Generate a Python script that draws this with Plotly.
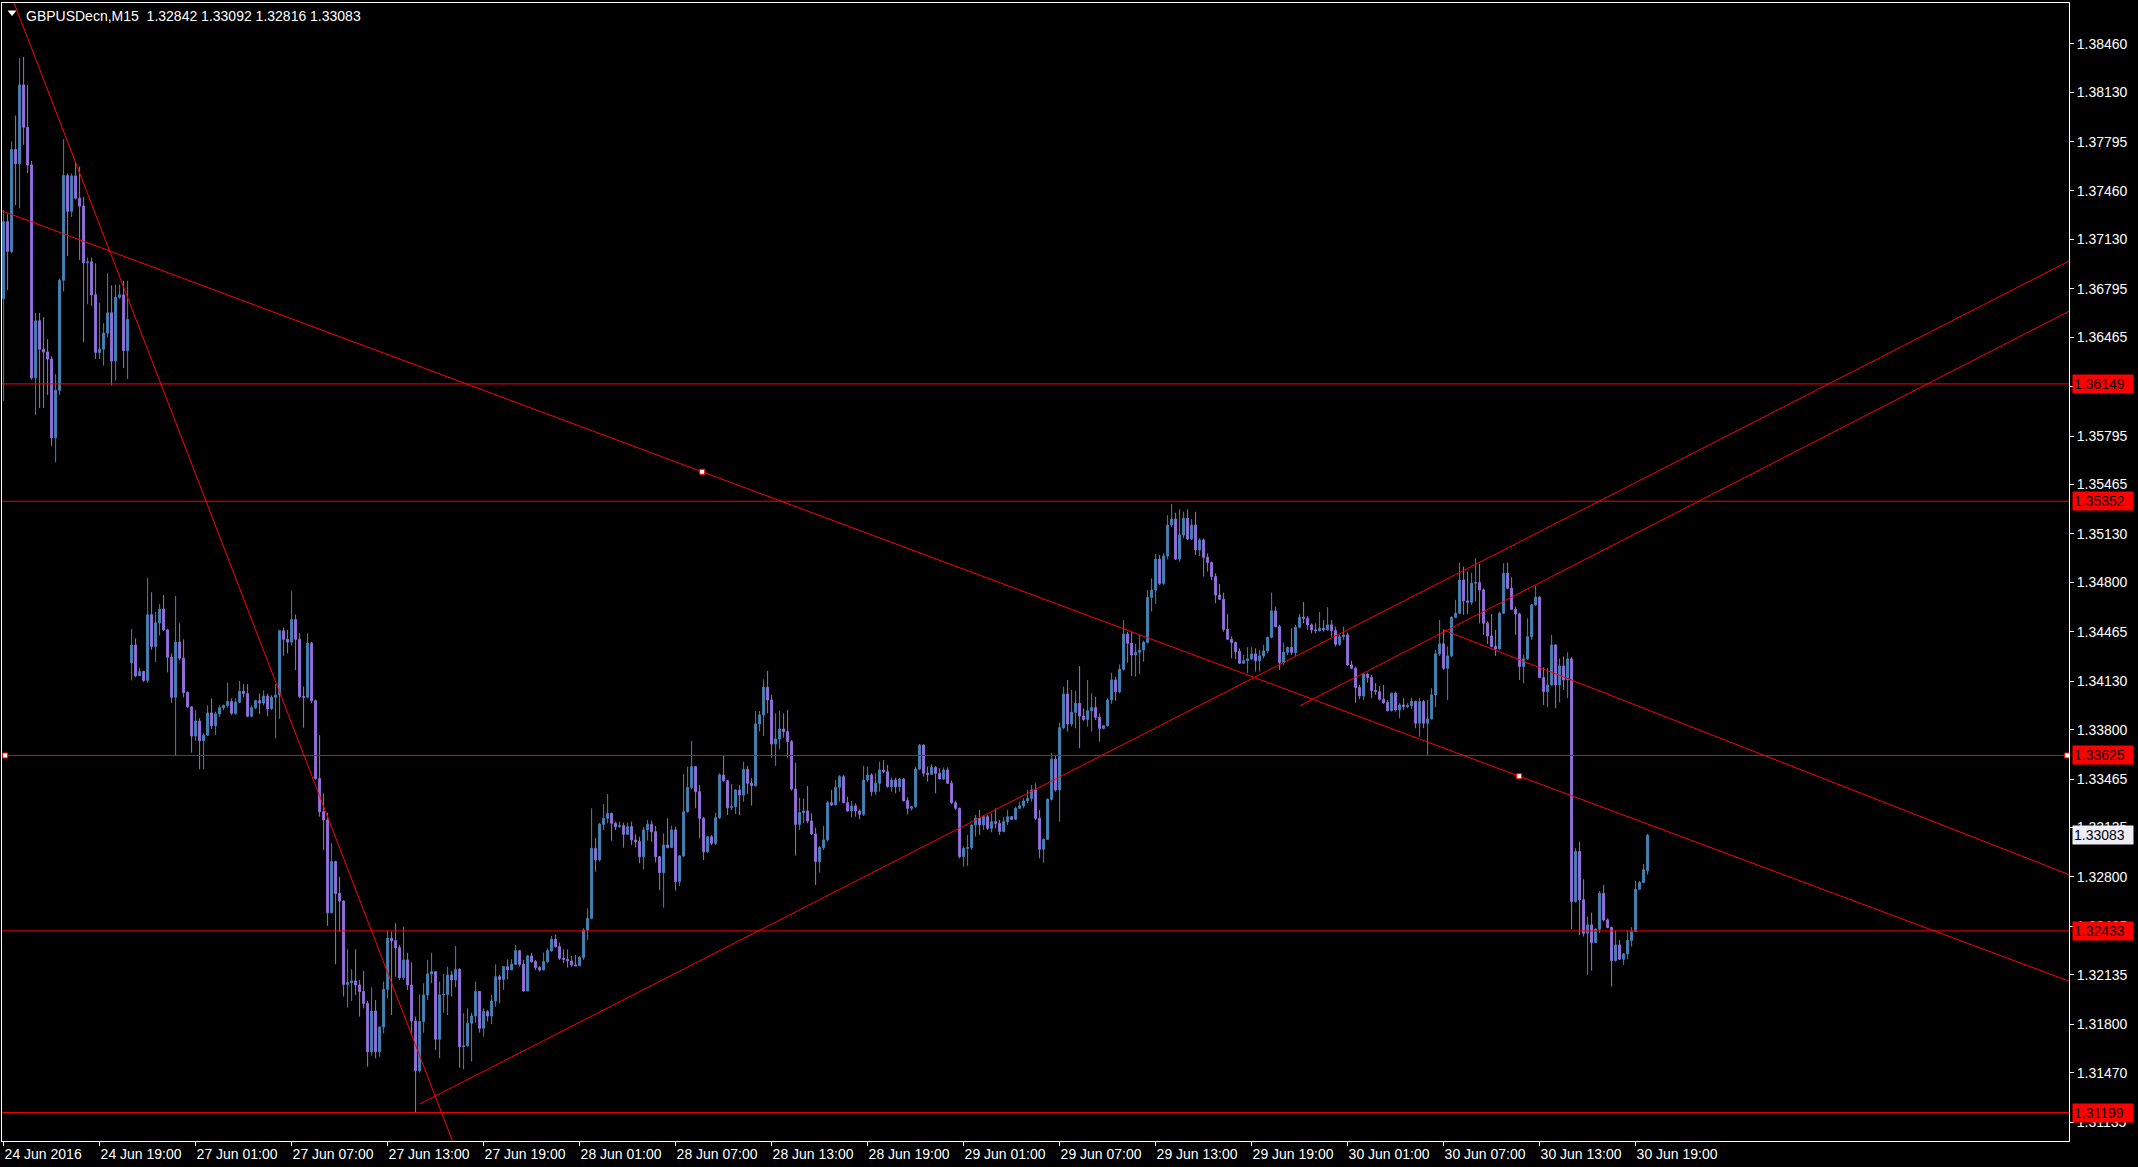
import plotly.graph_objects as go

SYMBOL_TITLE = "GBPUSDecn,M15  1.32842 1.33092 1.32816 1.33083"

OPEN = [
    1.36728, 1.37251, 1.37049, 1.37741, 1.37645, 1.38180, 1.37892, 1.37636, 1.36190, 1.36578,
    1.36385, 1.36366, 1.36318, 1.35783, 1.36106, 1.36853, 1.37565, 1.37321, 1.37562, 1.37411,
    1.37357, 1.36972, 1.36978, 1.36754, 1.36363, 1.36385, 1.36494, 1.36632, 1.36305, 1.36738,
    1.36754, 1.36376, 1.34254, 1.34375, 1.34167, 1.34196, 1.34135, 1.34581, 1.34366, 1.34526,
    1.34619, 1.34478, 1.34292, 1.34020, 1.34395, 1.34286, 1.34052, 1.33955, 1.33757, 1.33859,
    1.33725, 1.33763, 1.33914, 1.33827, 1.33907, 1.33949, 1.33965, 1.33991, 1.33911, 1.33987,
    1.34061, 1.34045, 1.33891, 1.33949, 1.33997, 1.33981, 1.34029, 1.33943, 1.34020, 1.34035,
    1.34472, 1.34414, 1.34395, 1.34548, 1.34414, 1.34026, 1.34020, 1.34388, 1.33997, 1.33468,
    1.33243, 1.33187, 1.32557, 1.32904, 1.32688, 1.32636, 1.32070, 1.32082, 1.32093, 1.32066,
    1.32021, 1.31941, 1.31613, 1.31889, 1.31613, 1.31781, 1.32036, 1.32383, 1.32367, 1.32319,
    1.32116, 1.32236, 1.32066, 1.31821, 1.31484, 1.31817, 1.31998, 1.32141, 1.32156, 1.31697,
    1.31998, 1.32002, 1.32134, 1.32100, 1.32172, 1.31647, 1.31652, 1.31806, 1.31855, 1.32021,
    1.31772, 1.31885, 1.31855, 1.31957, 1.32122, 1.32104, 1.32190, 1.32168, 1.32206, 1.32299,
    1.32206, 1.32025, 1.32263, 1.32224, 1.32184, 1.32168, 1.32224, 1.32299, 1.32376, 1.32326,
    1.32247, 1.32240, 1.32229, 1.32202, 1.32196, 1.32254, 1.32439, 1.32519, 1.32994, 1.32915,
    1.33157, 1.33198, 1.33232, 1.33164, 1.33141, 1.33148, 1.33089, 1.33141, 1.33051, 1.33040,
    1.32937, 1.33119, 1.33157, 1.33107, 1.32937, 1.32829, 1.33017, 1.32999, 1.33119, 1.32768,
    1.32942, 1.33243, 1.33408, 1.33549, 1.33379, 1.33198, 1.32971, 1.33073, 1.33028, 1.33202,
    1.33492, 1.33454, 1.33270, 1.33277, 1.33390, 1.33356, 1.33531, 1.33436, 1.33420, 1.33839,
    1.33900, 1.34088, 1.34002, 1.33703, 1.33737, 1.33805, 1.33787, 1.33719, 1.33397, 1.33157,
    1.33237, 1.33248, 1.33180, 1.33092, 1.32904, 1.32999, 1.33051, 1.33304, 1.33289, 1.33409,
    1.33481, 1.33304, 1.33248, 1.33282, 1.33248, 1.33225, 1.33458, 1.33492, 1.33379, 1.33436,
    1.33526, 1.33515, 1.33413, 1.33458, 1.33413, 1.33465, 1.33318, 1.33266, 1.33277, 1.33533,
    1.33696, 1.33504, 1.33497, 1.33544, 1.33504, 1.33465, 1.33526, 1.33436, 1.33304, 1.33266,
    1.32938, 1.32994, 1.32999, 1.33153, 1.33198, 1.33153, 1.33209, 1.33130, 1.33175, 1.33164,
    1.33108, 1.33175, 1.33209, 1.33191, 1.33266, 1.33282, 1.33316, 1.33334, 1.33391, 1.33198,
    1.32988, 1.33055, 1.33327, 1.33599, 1.33391, 1.33814, 1.34043, 1.33839, 1.33918, 1.33979,
    1.33893, 1.33870, 1.33929, 1.33950, 1.33884, 1.33809, 1.33827, 1.34002, 1.34138, 1.34058,
    1.34210, 1.34450, 1.34387, 1.34307, 1.34326, 1.34341, 1.34393, 1.34699, 1.34749, 1.34959,
    1.34794, 1.34980, 1.35190, 1.35231, 1.34959, 1.35122, 1.35236, 1.35095, 1.35190, 1.35021,
    1.35089, 1.34971, 1.34935, 1.34840, 1.34715, 1.34686, 1.34482, 1.34414, 1.34392, 1.34331,
    1.34251, 1.34269, 1.34281, 1.34315, 1.34269, 1.34301, 1.34335, 1.34428, 1.34607, 1.34500,
    1.34256, 1.34326, 1.34358, 1.34324, 1.34496, 1.34564, 1.34557, 1.34512, 1.34478, 1.34473,
    1.34489, 1.34478, 1.34512, 1.34473, 1.34380, 1.34432, 1.34444, 1.34240, 1.34217, 1.34086,
    1.34029, 1.34177, 1.34156, 1.34066, 1.34059, 1.34007, 1.33984, 1.33930, 1.34048, 1.33934,
    1.33968, 1.33957, 1.33964, 1.33991, 1.33844, 1.33991, 1.33844, 1.33873, 1.34036, 1.34315,
    1.34383, 1.34217, 1.34301, 1.34564, 1.34591, 1.34817, 1.34675, 1.34666, 1.34795, 1.34799,
    1.34749, 1.34523, 1.34437, 1.34365, 1.34349, 1.34591, 1.34863, 1.34761, 1.34618, 1.34586,
    1.34229, 1.34281, 1.34432, 1.34648, 1.34700, 1.34154, 1.34059, 1.34104, 1.34376, 1.34104,
    1.34233, 1.34138, 1.34281, 1.32633, 1.32972, 1.32644, 1.32418, 1.32474, 1.32354, 1.32445,
    1.32689, 1.32508, 1.32456, 1.32232, 1.32338, 1.32241, 1.32277, 1.32368, 1.32429, 1.32716,
    1.32762, 1.32842,
]

HIGH = [
    1.37331, 1.37305, 1.37796, 1.37972, 1.38363, 1.38370, 1.38180, 1.37664, 1.36632, 1.36632,
    1.36603, 1.36453, 1.36337, 1.36215, 1.36866, 1.37812, 1.37578, 1.37578, 1.37658, 1.37626,
    1.37418, 1.37007, 1.37007, 1.36969, 1.36699, 1.36562, 1.36901, 1.36818, 1.36824, 1.36824,
    1.36850, 1.36850, 1.34484, 1.34420, 1.34221, 1.34200, 1.34831, 1.34734, 1.34600, 1.34654,
    1.34715, 1.34485, 1.34318, 1.34709, 1.34523, 1.34414, 1.34060, 1.33960, 1.33933, 1.33878,
    1.33773, 1.33965, 1.34013, 1.33923, 1.33965, 1.33971, 1.34119, 1.34013, 1.34013, 1.34132,
    1.34109, 1.34109, 1.33965, 1.34003, 1.34045, 1.34067, 1.34045, 1.34035, 1.34109, 1.34478,
    1.34494, 1.34478, 1.34741, 1.34581, 1.34455, 1.34093, 1.34455, 1.34395, 1.34005, 1.33763,
    1.33368, 1.33236, 1.33028, 1.32910, 1.32802, 1.32640, 1.32308, 1.32172, 1.32308, 1.32100,
    1.32161, 1.31959, 1.32050, 1.31964, 1.31783, 1.32089, 1.32433, 1.32428, 1.32485, 1.32338,
    1.32462, 1.32285, 1.32220, 1.31851, 1.32002, 1.32077, 1.32236, 1.32285, 1.32161, 1.32089,
    1.32141, 1.32190, 1.32161, 1.32331, 1.32180, 1.31873, 1.31907, 1.31878, 1.32089, 1.32025,
    1.31907, 1.31896, 1.31998, 1.32206, 1.32134, 1.32195, 1.32240, 1.32240, 1.32338, 1.32304,
    1.32236, 1.32270, 1.32285, 1.32236, 1.32195, 1.32285, 1.32315, 1.32399, 1.32410, 1.32353,
    1.32308, 1.32308, 1.32263, 1.32270, 1.32263, 1.32451, 1.32587, 1.33266, 1.33062, 1.33168,
    1.33295, 1.33363, 1.33236, 1.33175, 1.33175, 1.33168, 1.33168, 1.33175, 1.33090, 1.33073,
    1.33141, 1.33187, 1.33182, 1.33146, 1.32942, 1.33096, 1.33198, 1.33148, 1.33141, 1.32949,
    1.33499, 1.33549, 1.33723, 1.33553, 1.33424, 1.33205, 1.33078, 1.33084, 1.33236, 1.33504,
    1.33624, 1.33458, 1.33431, 1.33395, 1.33424, 1.33583, 1.33553, 1.33470, 1.33927, 1.33927,
    1.34142, 1.34199, 1.34036, 1.33911, 1.33929, 1.33911, 1.33934, 1.33730, 1.33576, 1.33338,
    1.33334, 1.33418, 1.33232, 1.33135, 1.33010, 1.33146, 1.33316, 1.33391, 1.33458, 1.33492,
    1.33492, 1.33345, 1.33316, 1.33300, 1.33259, 1.33554, 1.33549, 1.33504, 1.33504, 1.33583,
    1.33594, 1.33560, 1.33474, 1.33474, 1.33474, 1.33470, 1.33341, 1.33282, 1.33549, 1.33703,
    1.33700, 1.33549, 1.33567, 1.33554, 1.33538, 1.33544, 1.33544, 1.33454, 1.33318, 1.33271,
    1.33006, 1.33085, 1.33157, 1.33221, 1.33255, 1.33221, 1.33221, 1.33232, 1.33266, 1.33187,
    1.33209, 1.33255, 1.33214, 1.33277, 1.33311, 1.33334, 1.33391, 1.33424, 1.33436, 1.33255,
    1.33062, 1.33334, 1.33644, 1.33628, 1.33848, 1.34092, 1.34138, 1.34070, 1.34065, 1.34233,
    1.33945, 1.34138, 1.34047, 1.34024, 1.33911, 1.33832, 1.34013, 1.34187, 1.34160, 1.34244,
    1.34545, 1.34466, 1.34466, 1.34382, 1.34443, 1.34405, 1.34749, 1.34828, 1.34993, 1.34987,
    1.34998, 1.35258, 1.35333, 1.35274, 1.35297, 1.35281, 1.35297, 1.35229, 1.35281, 1.35100,
    1.35100, 1.34998, 1.34942, 1.34863, 1.34790, 1.34731, 1.34586, 1.34432, 1.34399, 1.34353,
    1.34308, 1.34360, 1.34360, 1.34353, 1.34342, 1.34376, 1.34432, 1.34731, 1.34636, 1.34512,
    1.34392, 1.34365, 1.34489, 1.34512, 1.34586, 1.34668, 1.34573, 1.34523, 1.34523, 1.34600,
    1.34546, 1.34632, 1.34546, 1.34500, 1.34444, 1.34500, 1.34460, 1.34269, 1.34229, 1.34104,
    1.34183, 1.34188, 1.34172, 1.34116, 1.34097, 1.34104, 1.34002, 1.34052, 1.34059, 1.33980,
    1.34014, 1.33980, 1.34018, 1.33998, 1.34014, 1.34002, 1.34002, 1.34082, 1.34342, 1.34546,
    1.34482, 1.34365, 1.34568, 1.34682, 1.34935, 1.34908, 1.34874, 1.34867, 1.34965, 1.34926,
    1.34760, 1.34534, 1.34586, 1.34478, 1.34602, 1.34931, 1.34935, 1.34835, 1.34636, 1.34595,
    1.34308, 1.34557, 1.34652, 1.34777, 1.34709, 1.34224, 1.34217, 1.34444, 1.34380, 1.34285,
    1.34297, 1.34326, 1.34292, 1.32995, 1.33040, 1.32784, 1.32531, 1.32558, 1.32451, 1.32705,
    1.32746, 1.32519, 1.32463, 1.32436, 1.32372, 1.32282, 1.32436, 1.32459, 1.32773, 1.32773,
    1.32888, 1.33092,
]

LOW = [
    1.36033, 1.36786, 1.37036, 1.37363, 1.37341, 1.37773, 1.37581, 1.36177, 1.35937, 1.35985,
    1.35985, 1.36074, 1.35728, 1.35616, 1.36074, 1.36776, 1.37017, 1.37283, 1.37402, 1.36991,
    1.36433, 1.36690, 1.36680, 1.36318, 1.36318, 1.36273, 1.36465, 1.36138, 1.36171, 1.36728,
    1.36257, 1.36183, 1.34135, 1.34157, 1.34164, 1.34125, 1.34119, 1.34343, 1.34260, 1.34439,
    1.34472, 1.34189, 1.33981, 1.33628, 1.34270, 1.34020, 1.33949, 1.33644, 1.33725, 1.33532,
    1.33532, 1.33757, 1.33805, 1.33763, 1.33885, 1.33933, 1.33949, 1.33901, 1.33901, 1.33981,
    1.34020, 1.33885, 1.33885, 1.33939, 1.33907, 1.33965, 1.33891, 1.33933, 1.33741, 1.33875,
    1.34302, 1.34318, 1.34372, 1.34205, 1.34013, 1.33814, 1.34013, 1.33981, 1.33460, 1.33209,
    1.32983, 1.32467, 1.32553, 1.32206, 1.32428, 1.31987, 1.31912, 1.31957, 1.31998, 1.31851,
    1.31907, 1.31511, 1.31586, 1.31568, 1.31579, 1.31738, 1.31975, 1.31862, 1.32122, 1.32100,
    1.32100, 1.32032, 1.31738, 1.31199, 1.31470, 1.31742, 1.31964, 1.32077, 1.31624, 1.31568,
    1.31878, 1.31862, 1.31987, 1.32050, 1.31504, 1.31493, 1.31647, 1.31545, 1.31810, 1.31742,
    1.31715, 1.31817, 1.31799, 1.31919, 1.31941, 1.32032, 1.32104, 1.32168, 1.32202, 1.32190,
    1.32021, 1.32025, 1.32218, 1.32168, 1.32156, 1.32168, 1.32213, 1.32292, 1.32319, 1.32236,
    1.32213, 1.32184, 1.32190, 1.32196, 1.32196, 1.32236, 1.32372, 1.32512, 1.32836, 1.32904,
    1.33119, 1.33164, 1.33046, 1.33119, 1.33134, 1.32999, 1.33089, 1.33017, 1.33000, 1.32892,
    1.32851, 1.33046, 1.33039, 1.32899, 1.32711, 1.32591, 1.32994, 1.32999, 1.32707, 1.32738,
    1.32937, 1.33236, 1.33395, 1.33266, 1.33062, 1.32915, 1.32965, 1.33017, 1.33017, 1.33193,
    1.33447, 1.33220, 1.33254, 1.33227, 1.33220, 1.33311, 1.33363, 1.33284, 1.33413, 1.33787,
    1.33757, 1.33911, 1.33610, 1.33554, 1.33667, 1.33746, 1.33610, 1.33386, 1.32945, 1.33119,
    1.33164, 1.33164, 1.33085, 1.32745, 1.32829, 1.32983, 1.33040, 1.33282, 1.33289, 1.33311,
    1.33300, 1.33243, 1.33203, 1.33209, 1.33191, 1.33214, 1.33447, 1.33350, 1.33357, 1.33379,
    1.33504, 1.33406, 1.33379, 1.33368, 1.33379, 1.33311, 1.33225, 1.33250, 1.33270, 1.33526,
    1.33481, 1.33447, 1.33492, 1.33368, 1.33465, 1.33458, 1.33431, 1.33295, 1.33255, 1.32926,
    1.32870, 1.32874, 1.32983, 1.33074, 1.33085, 1.33119, 1.33119, 1.33103, 1.33130, 1.33085,
    1.33103, 1.33153, 1.33187, 1.33187, 1.33259, 1.33266, 1.33300, 1.33311, 1.33187, 1.32926,
    1.32897, 1.33051, 1.33318, 1.33379, 1.33175, 1.33803, 1.33787, 1.33821, 1.33809, 1.33674,
    1.33861, 1.33821, 1.33787, 1.33866, 1.33719, 1.33803, 1.33821, 1.33975, 1.33997, 1.34047,
    1.34201, 1.34255, 1.34165, 1.34160, 1.34178, 1.34262, 1.34387, 1.34602, 1.34654, 1.34783,
    1.34783, 1.34957, 1.35175, 1.34953, 1.34941, 1.35100, 1.35088, 1.35088, 1.34987, 1.34980,
    1.34840, 1.34874, 1.34817, 1.34659, 1.34681, 1.34466, 1.34410, 1.34285, 1.34279, 1.34247,
    1.34247, 1.34183, 1.34274, 1.34195, 1.34195, 1.34285, 1.34319, 1.34421, 1.34496, 1.34206,
    1.34240, 1.34308, 1.34308, 1.34301, 1.34489, 1.34523, 1.34478, 1.34455, 1.34455, 1.34466,
    1.34466, 1.34473, 1.34432, 1.34365, 1.34369, 1.34410, 1.34233, 1.34211, 1.33984, 1.34007,
    1.34002, 1.34120, 1.34014, 1.34036, 1.33998, 1.33975, 1.33923, 1.33923, 1.33923, 1.33878,
    1.33934, 1.33946, 1.33939, 1.33810, 1.33753, 1.33810, 1.33629, 1.33871, 1.33953, 1.34301,
    1.34206, 1.34002, 1.34292, 1.34557, 1.34586, 1.34580, 1.34586, 1.34648, 1.34670, 1.34523,
    1.34444, 1.34383, 1.34360, 1.34301, 1.34342, 1.34586, 1.34754, 1.34614, 1.34444, 1.34138,
    1.34116, 1.34274, 1.34410, 1.34641, 1.34149, 1.33968, 1.33953, 1.34100, 1.33946, 1.33986,
    1.34070, 1.34014, 1.32445, 1.32626, 1.32406, 1.32395, 1.32135, 1.32164, 1.32350, 1.32418,
    1.32497, 1.32451, 1.32055, 1.32225, 1.32236, 1.32202, 1.32241, 1.32327, 1.32429, 1.32716,
    1.32757, 1.32816,
]

CLOSE = [
    1.37251, 1.37049, 1.37741, 1.37645, 1.38180, 1.37892, 1.37636, 1.36190, 1.36578, 1.36385,
    1.36366, 1.36318, 1.35783, 1.36106, 1.36853, 1.37565, 1.37321, 1.37562, 1.37411, 1.37357,
    1.36972, 1.36978, 1.36754, 1.36363, 1.36385, 1.36494, 1.36632, 1.36305, 1.36738, 1.36754,
    1.36376, 1.36587, 1.34375, 1.34167, 1.34196, 1.34135, 1.34581, 1.34366, 1.34526, 1.34619,
    1.34478, 1.34292, 1.34020, 1.34395, 1.34286, 1.34052, 1.33955, 1.33757, 1.33859, 1.33725,
    1.33763, 1.33914, 1.33827, 1.33907, 1.33949, 1.33965, 1.33991, 1.33911, 1.33987, 1.34061,
    1.34045, 1.33891, 1.33949, 1.33997, 1.33981, 1.34029, 1.33943, 1.34020, 1.34035, 1.34472,
    1.34414, 1.34395, 1.34548, 1.34414, 1.34026, 1.34020, 1.34388, 1.33997, 1.33468, 1.33243,
    1.33187, 1.32557, 1.32904, 1.32688, 1.32636, 1.32070, 1.32082, 1.32093, 1.32066, 1.32021,
    1.31941, 1.31613, 1.31889, 1.31613, 1.31781, 1.32036, 1.32383, 1.32367, 1.32319, 1.32116,
    1.32236, 1.32066, 1.31821, 1.31484, 1.31817, 1.31998, 1.32141, 1.32156, 1.31697, 1.31998,
    1.32002, 1.32134, 1.32100, 1.32172, 1.31647, 1.31652, 1.31806, 1.31855, 1.32021, 1.31772,
    1.31885, 1.31855, 1.31957, 1.32122, 1.32104, 1.32190, 1.32168, 1.32206, 1.32299, 1.32206,
    1.32025, 1.32263, 1.32224, 1.32184, 1.32168, 1.32224, 1.32299, 1.32376, 1.32326, 1.32247,
    1.32240, 1.32229, 1.32202, 1.32196, 1.32254, 1.32439, 1.32519, 1.32994, 1.32915, 1.33157,
    1.33198, 1.33232, 1.33164, 1.33141, 1.33148, 1.33089, 1.33141, 1.33051, 1.33040, 1.32937,
    1.33119, 1.33157, 1.33107, 1.32937, 1.32829, 1.33017, 1.32999, 1.33119, 1.32768, 1.32942,
    1.33243, 1.33408, 1.33549, 1.33379, 1.33198, 1.32971, 1.33073, 1.33028, 1.33202, 1.33492,
    1.33454, 1.33270, 1.33277, 1.33390, 1.33356, 1.33531, 1.33436, 1.33420, 1.33839, 1.33900,
    1.34088, 1.34002, 1.33703, 1.33737, 1.33805, 1.33787, 1.33719, 1.33397, 1.33157, 1.33237,
    1.33248, 1.33180, 1.33092, 1.32904, 1.32999, 1.33051, 1.33304, 1.33289, 1.33409, 1.33481,
    1.33304, 1.33248, 1.33282, 1.33248, 1.33225, 1.33458, 1.33492, 1.33379, 1.33436, 1.33526,
    1.33515, 1.33413, 1.33458, 1.33413, 1.33465, 1.33318, 1.33266, 1.33277, 1.33533, 1.33696,
    1.33504, 1.33497, 1.33544, 1.33504, 1.33465, 1.33526, 1.33436, 1.33304, 1.33266, 1.32938,
    1.32994, 1.32999, 1.33153, 1.33198, 1.33153, 1.33209, 1.33130, 1.33175, 1.33164, 1.33108,
    1.33175, 1.33209, 1.33191, 1.33266, 1.33282, 1.33316, 1.33334, 1.33391, 1.33198, 1.32988,
    1.33055, 1.33327, 1.33599, 1.33391, 1.33814, 1.34043, 1.33839, 1.33918, 1.33979, 1.33893,
    1.33870, 1.33929, 1.33950, 1.33884, 1.33809, 1.33827, 1.34002, 1.34138, 1.34058, 1.34210,
    1.34450, 1.34387, 1.34307, 1.34326, 1.34341, 1.34393, 1.34699, 1.34749, 1.34959, 1.34794,
    1.34980, 1.35190, 1.35231, 1.34959, 1.35122, 1.35236, 1.35095, 1.35190, 1.35021, 1.35089,
    1.34971, 1.34935, 1.34840, 1.34715, 1.34686, 1.34482, 1.34414, 1.34392, 1.34331, 1.34251,
    1.34269, 1.34281, 1.34315, 1.34269, 1.34301, 1.34335, 1.34428, 1.34607, 1.34500, 1.34256,
    1.34326, 1.34358, 1.34324, 1.34496, 1.34564, 1.34557, 1.34512, 1.34478, 1.34473, 1.34489,
    1.34478, 1.34512, 1.34473, 1.34380, 1.34432, 1.34444, 1.34240, 1.34217, 1.34086, 1.34029,
    1.34177, 1.34156, 1.34066, 1.34059, 1.34007, 1.33984, 1.33930, 1.34048, 1.33934, 1.33968,
    1.33957, 1.33964, 1.33991, 1.33844, 1.33991, 1.33844, 1.33873, 1.34036, 1.34315, 1.34383,
    1.34217, 1.34301, 1.34564, 1.34591, 1.34817, 1.34675, 1.34666, 1.34795, 1.34799, 1.34749,
    1.34523, 1.34437, 1.34365, 1.34349, 1.34591, 1.34863, 1.34761, 1.34618, 1.34586, 1.34229,
    1.34281, 1.34432, 1.34648, 1.34700, 1.34154, 1.34059, 1.34104, 1.34376, 1.34104, 1.34233,
    1.34138, 1.34281, 1.32633, 1.32972, 1.32644, 1.32418, 1.32474, 1.32354, 1.32445, 1.32689,
    1.32508, 1.32456, 1.32232, 1.32338, 1.32241, 1.32277, 1.32368, 1.32429, 1.32716, 1.32762,
    1.32848, 1.33083,
]

assert len(OPEN) == len(HIGH) == len(LOW) == len(CLOSE) == 412

BAR_INDEX = list(range(len(CLOSE)))

TIME_TICK_BARS = [0, 24, 48, 72, 96, 120, 144, 168, 192, 216, 240, 264, 288, 312, 336, 360, 384, 408]
TIME_TICK_LABELS = [
    "24 Jun 2016", "24 Jun 19:00", "27 Jun 01:00", "27 Jun 07:00", "27 Jun 13:00", "27 Jun 19:00",
    "28 Jun 01:00", "28 Jun 07:00", "28 Jun 13:00", "28 Jun 19:00", "29 Jun 01:00", "29 Jun 07:00",
    "29 Jun 13:00", "29 Jun 19:00", "30 Jun 01:00", "30 Jun 07:00", "30 Jun 13:00", "30 Jun 19:00",
]

PRICE_TICKS = [1.38460, 1.38130, 1.37795, 1.37460, 1.37130, 1.36795, 1.36465, 1.36130, 1.35795,
               1.35465, 1.35130, 1.34800, 1.34465, 1.34130, 1.33800, 1.33465, 1.33135, 1.32800,
               1.32465, 1.32135, 1.31800, 1.31470, 1.31135]
PRICE_TICK_LABELS = ["%.5f" % v for v in PRICE_TICKS]

LEVELS = [1.36149, 1.35352, 1.33625, 1.32433, 1.31199]
LEVEL_LABELS = ["1.36149", "1.35352", "1.33625", "1.32433", "1.31199"]
LAST_PRICE = 1.33083
LAST_PRICE_LABEL = "1.33083"

# trend lines: two anchor points each (bar index, price)
STEEP_BARS, STEEP_PRICES = [6.2, 109.5], [1.38485, 1.31198]
MAIN_BARS, MAIN_PRICES = [174.65, 378.9], [1.35552, 1.33484]
UPPER_DESC_BARS, UPPER_DESC_PRICES = [360.0, 516.6], [1.34477, 1.32813]
LOW_ASC_BARS, LOW_ASC_PRICES = [104.0, 516.1], [1.31257, 1.36980]
MID_ASC_BARS, MID_ASC_PRICES = [324.1, 516.6], [1.33963, 1.36646]
SELECTED_LEVEL = 1.33625
SELECTED_LEVEL_HANDLE_BARS = [0.4, 515.9]

X_MIN, X_MAX = -0.4, 516.35
Y_MIN, Y_MAX = 1.31006, 1.387365

BULL = "#4682B4"
BEAR = "#9370DB"
RED = "#FF0000"

W, H = 2138, 1167
ML, MR, MT, MB = 2, 69, 3, 26


def line_points(bars, prices, x_start, x_end):
    slope = (prices[1] - prices[0]) / (bars[1] - bars[0])
    return ([x_start, x_end],
            [prices[0] + slope * (x_start - bars[0]), prices[0] + slope * (x_end - bars[0])])


fig = go.Figure()

fig.add_trace(go.Candlestick(
    x=BAR_INDEX, open=OPEN, high=HIGH, low=LOW, close=CLOSE,
    increasing=dict(line=dict(color=BULL, width=1), fillcolor=BULL),
    decreasing=dict(line=dict(color=BEAR, width=1), fillcolor=BEAR),
    whiskerwidth=0, showlegend=False, hoverinfo="skip",
))

# horizontal levels
for lvl in LEVELS:
    fig.add_trace(go.Scatter(x=[X_MIN, X_MAX], y=[lvl, lvl], mode="lines",
                             line=dict(color=RED, width=1), hoverinfo="skip", showlegend=False))

# trend lines
segments = [
    line_points(STEEP_BARS, STEEP_PRICES, X_MIN, X_MAX),
    line_points(MAIN_BARS, MAIN_PRICES, X_MIN, X_MAX),
    line_points(UPPER_DESC_BARS, UPPER_DESC_PRICES, UPPER_DESC_BARS[0], X_MAX),
    line_points(LOW_ASC_BARS, LOW_ASC_PRICES, LOW_ASC_BARS[0], X_MAX),
    line_points(MID_ASC_BARS, MID_ASC_PRICES, MID_ASC_BARS[0], X_MAX),
]
for xs, ys in segments:
    fig.add_trace(go.Scatter(x=xs, y=ys, mode="lines", line=dict(color=RED, width=1),
                             hoverinfo="skip", showlegend=False))

# selection handles
fig.add_trace(go.Scatter(
    x=MAIN_BARS + SELECTED_LEVEL_HANDLE_BARS,
    y=MAIN_PRICES + [SELECTED_LEVEL, SELECTED_LEVEL],
    mode="markers", cliponaxis=False,
    marker=dict(symbol="square", size=5, color="white", line=dict(color=RED, width=1)),
    hoverinfo="skip", showlegend=False))

# price labels on the right axis
for lvl, txt in zip(LEVELS, LEVEL_LABELS):
    fig.add_annotation(x=1, xref="paper", xanchor="left", xshift=3, y=lvl, yref="y",
                       yanchor="middle", text=txt, showarrow=False, bgcolor=RED,
                       font=dict(color="black", size=14, family="Liberation Sans, Arial"),
                       width=58, height=16, align="left", borderpad=1)
fig.add_annotation(x=1, xref="paper", xanchor="left", xshift=3, y=LAST_PRICE, yref="y",
                   yanchor="middle", text=LAST_PRICE_LABEL, showarrow=False, bgcolor="#EEEEF8",
                   font=dict(color="black", size=14, family="Liberation Sans, Arial"),
                   width=58, height=16, align="left", borderpad=1)

# title
fig.add_annotation(x=0, xref="paper", xanchor="left", xshift=22, y=1, yref="paper",
                   yanchor="top", yshift=-3, text=SYMBOL_TITLE, showarrow=False,
                   font=dict(color="white", size=14, family="Liberation Sans, Arial"))

pw, ph = W - ML - MR, H - MT - MB


def px(x):
    return (x - ML) / pw


def py(y):
    return 1 - (y - MT) / ph


fig.add_shape(type="path", xref="paper", yref="paper",
              path="M %f,%f L %f,%f L %f,%f Z" % (px(7.5), py(10.5), px(16.5), py(10.5), px(12), py(16)),
              fillcolor="white", line=dict(color="white", width=0))

fig.update_layout(
    width=W, height=H,
    paper_bgcolor="black", plot_bgcolor="black",
    margin=dict(l=ML, r=MR, t=MT, b=MB, pad=0),
    showlegend=False,
    font=dict(family="Liberation Sans, Arial, sans-serif", size=14, color="white"),
    xaxis=dict(range=[X_MIN, X_MAX], rangeslider=dict(visible=False), showgrid=False,
               zeroline=False, tickvals=TIME_TICK_BARS, ticktext=TIME_TICK_LABELS,
               ticks="outside", ticklen=4, tickcolor="white", tickwidth=1,
               showline=True, linecolor="white", linewidth=1, mirror=True,
               ticklabelposition="outside right", tickfont=dict(size=14, color="white")),
    yaxis=dict(range=[Y_MIN, Y_MAX], side="right", tickvals=PRICE_TICKS,
               ticktext=PRICE_TICK_LABELS, ticks="outside", ticklen=4, tickcolor="white",
               tickwidth=1, showline=True, linecolor="white", linewidth=1, mirror=True,
               showgrid=False, zeroline=False, tickfont=dict(size=14, color="white")),
)

fig.write_html("out.html", config={"displayModeBar": False},
               post_script="document.body.style.margin='0px';document.body.style.overflow='hidden';")
